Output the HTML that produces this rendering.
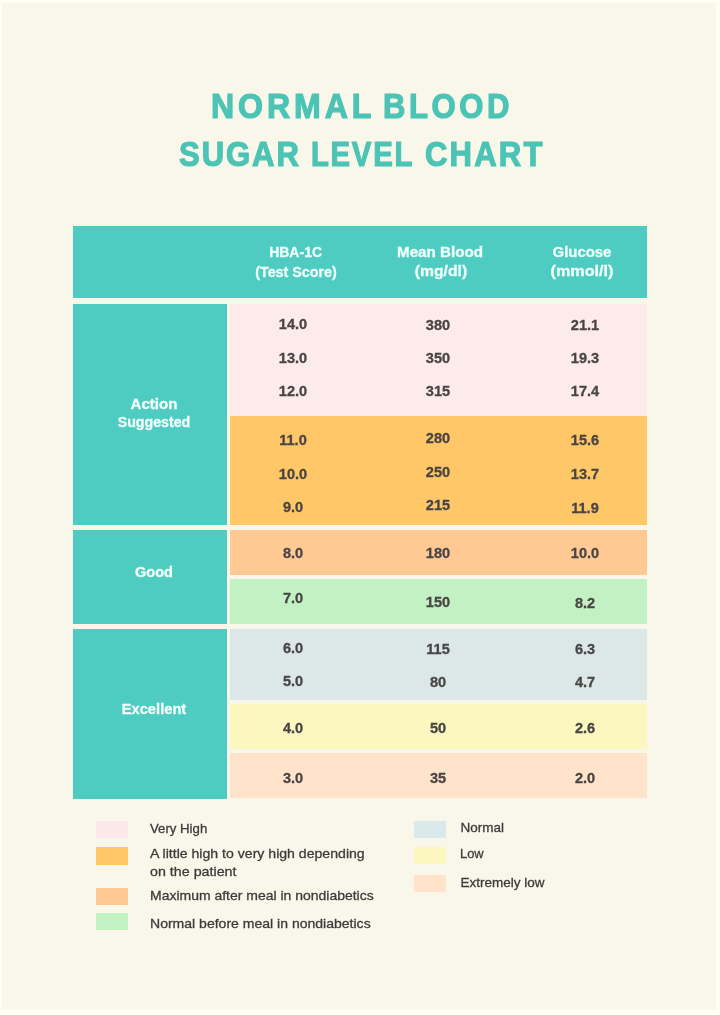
<!DOCTYPE html>
<html lang="en">
<head>
<meta charset="utf-8">
<title>Normal Blood Sugar Level Chart</title>
<style>
html,body{margin:0;padding:0;}
body{width:720px;height:1015px;background:#FEFEF2;position:relative;overflow:hidden;
  font-family:"Liberation Sans",sans-serif;}
.b{position:absolute;}
.t{position:absolute;white-space:nowrap;line-height:1;}
.title{color:#4BC4B5;font-weight:bold;font-size:34.5px;transform-origin:0 0;-webkit-text-stroke:1.2px #4BC4B5;}
.hd{color:#EFFFFB;font-weight:bold;font-size:14px;text-align:center;width:160px;-webkit-text-stroke:0.3px #EFFFFB;}
.lb{color:#F2FFFD;font-weight:bold;font-size:14px;text-align:center;width:154px;left:76.8px;-webkit-text-stroke:0.3px #F2FFFD;}
.d{color:#4A4545;font-weight:bold;font-size:14px;text-align:center;width:80px;transform:scaleX(1.04);-webkit-text-stroke:0.3px #4A4545;}
.c1{left:253.2px;}
.c2{left:398px;}
.c3{left:544.7px;}
.lg{color:#3D3B39;font-size:13.5px;transform-origin:0 0;-webkit-text-stroke:0.3px #3D3B39;}
</style>
</head>
<body>
<div class="b" style="left:2px;top:3px;width:714px;height:1006px;background:#F9F6EA;box-shadow:0 0 1px #F9F6EA;"></div>

<!-- title -->
<div class="t title" id="w1" style="left:211px;top:89px;transform:scaleX(0.93);letter-spacing:4.22px;">NORMAL</div>
<div class="t title" id="w2" style="left:383px;top:89px;transform:scaleX(0.90);letter-spacing:4px;">BLOOD</div>
<div class="t title" id="w3" style="left:179px;top:136.6px;transform:scaleX(0.90);letter-spacing:2.13px;">SUGAR</div>
<div class="t title" id="w4" style="left:311px;top:136.6px;transform:scaleX(0.85);letter-spacing:2px;">LEVEL</div>
<div class="t title" id="w5" style="left:424.5px;top:136.6px;transform:scaleX(0.90);letter-spacing:2.43px;">CHART</div>

<!-- header bar -->
<div class="b" style="left:73px;top:226px;width:574px;height:72px;background:#4ECCC1;"></div>
<div class="t hd" id="h1a" style="left:215.6px;top:245px;">HBA-1C</div>
<div class="t hd" id="h1b" style="left:215.6px;top:264.5px;transform:scaleX(1.022);">(Test Score)</div>
<div class="t hd" id="h2a" style="left:359.7px;top:245px;transform:scaleX(1.083);">Mean Blood</div>
<div class="t hd" id="h2b" style="left:360.5px;top:264px;transform:scaleX(1.12);">(mg/dl)</div>
<div class="t hd" id="h3a" style="left:502px;top:245px;transform:scaleX(1.065);">Glucose</div>
<div class="t hd" id="h3b" style="left:502px;top:264px;transform:scaleX(1.157);">(mmol/l)</div>

<!-- left column blocks -->
<div class="b" style="left:73px;top:304px;width:153.5px;height:221px;background:#4ECCC1;"></div>
<div class="b" style="left:73px;top:530px;width:153.5px;height:94px;background:#4ECCC1;"></div>
<div class="b" style="left:73px;top:629px;width:153.5px;height:170px;background:#4ECCC1;"></div>
<div class="t lb" id="l1a" style="top:397px;transform:scaleX(1.075);">Action</div>
<div class="t lb" id="l1b" style="top:415.3px;transform:scaleX(1.014);">Suggested</div>
<div class="t lb" id="l2" style="top:564.7px;transform:scaleX(1.04);">Good</div>
<div class="t lb" id="l3" style="top:701.5px;transform:scaleX(1.05);">Excellent</div>

<!-- colour bands -->
<div class="b" style="left:229.5px;top:304px;width:417.5px;height:112px;background:#FCEBEA;"></div>
<div class="b" style="left:229.5px;top:416px;width:417.5px;height:109px;background:#FFC767;"></div>
<div class="b" style="left:229.5px;top:529.5px;width:417.5px;height:45.5px;background:#FFC994;"></div>
<div class="b" style="left:229.5px;top:579px;width:417.5px;height:45px;background:#C2F1C3;"></div>
<div class="b" style="left:229.5px;top:629px;width:417.5px;height:71px;background:#DCE8E8;"></div>
<div class="b" style="left:229.5px;top:704px;width:417.5px;height:45px;background:#FBF7BE;"></div>
<div class="b" style="left:229.5px;top:753px;width:417.5px;height:45px;background:#FFE3CB;"></div>

<!-- data: HBA-1C -->
<div class="t d c1" id="a1" style="top:317px;">14.0</div>
<div class="t d c1" style="top:351px;">13.0</div>
<div class="t d c1" style="top:384px;">12.0</div>
<div class="t d c1" style="top:433px;">11.0</div>
<div class="t d c1" style="top:467px;">10.0</div>
<div class="t d c1" style="top:500px;">9.0</div>
<div class="t d c1" style="top:546px;">8.0</div>
<div class="t d c1" style="top:591px;">7.0</div>
<div class="t d c1" style="top:641px;">6.0</div>
<div class="t d c1" style="top:674px;">5.0</div>
<div class="t d c1" style="top:721px;">4.0</div>
<div class="t d c1" style="top:771px;">3.0</div>

<!-- data: Mean Blood -->
<div class="t d c2" id="b1" style="top:317.5px;">380</div>
<div class="t d c2" style="top:351px;">350</div>
<div class="t d c2" style="top:384px;">315</div>
<div class="t d c2" style="top:431px;">280</div>
<div class="t d c2" style="top:465px;">250</div>
<div class="t d c2" style="top:498px;">215</div>
<div class="t d c2" style="top:546px;">180</div>
<div class="t d c2" style="top:595px;">150</div>
<div class="t d c2" style="top:642px;">115</div>
<div class="t d c2" style="top:675px;">80</div>
<div class="t d c2" style="top:721px;">50</div>
<div class="t d c2" style="top:771px;">35</div>

<!-- data: Glucose -->
<div class="t d c3" id="c1" style="top:317.5px;">21.1</div>
<div class="t d c3" style="top:350.5px;">19.3</div>
<div class="t d c3" style="top:384px;">17.4</div>
<div class="t d c3" style="top:433px;">15.6</div>
<div class="t d c3" style="top:467px;">13.7</div>
<div class="t d c3" style="top:501px;">11.9</div>
<div class="t d c3" style="top:546px;">10.0</div>
<div class="t d c3" style="top:596px;">8.2</div>
<div class="t d c3" style="top:642px;">6.3</div>
<div class="t d c3" style="top:675px;">4.7</div>
<div class="t d c3" style="top:721px;">2.6</div>
<div class="t d c3" style="top:771px;">2.0</div>

<!-- legend swatches -->
<div class="b" style="left:96px;top:820.5px;width:32px;height:17.5px;background:#FCE8EA;"></div>
<div class="b" style="left:96px;top:847px;width:32px;height:17.5px;background:#FFC767;"></div>
<div class="b" style="left:96px;top:887.5px;width:32px;height:17.5px;background:#FFC994;"></div>
<div class="b" style="left:96px;top:912.5px;width:32px;height:17.5px;background:#C2F1C3;"></div>
<div class="b" style="left:414px;top:820.5px;width:32px;height:17.5px;background:#DAE9EB;"></div>
<div class="b" style="left:414px;top:847px;width:32px;height:17px;background:#FBF7BE;"></div>
<div class="b" style="left:414px;top:875px;width:32px;height:17px;background:#FFE3CB;"></div>

<!-- legend text -->
<div class="t lg" id="g1" style="left:150px;top:822px;transform:scaleX(0.978);">Very High</div>
<div class="t lg" id="g2" style="left:150px;top:847px;transform:scaleX(1.044);">A little high to very high depending</div>
<div class="t lg" id="g3" style="left:150px;top:865px;transform:scaleX(1.057);">on the patient</div>
<div class="t lg" id="g4" style="left:150px;top:889px;transform:scaleX(1.035);">Maximum after meal in nondiabetics</div>
<div class="t lg" id="g5" style="left:150px;top:916.6px;transform:scaleX(1.039);">Normal before meal in nondiabetics</div>
<div class="t lg" id="g6" style="left:460.4px;top:821.4px;">Normal</div>
<div class="t lg" id="g7" style="left:460.4px;top:847.2px;transform:scaleX(0.955);">Low</div>
<div class="t lg" id="g8" style="left:460.4px;top:875.6px;">Extremely low</div>

</body>
</html>
